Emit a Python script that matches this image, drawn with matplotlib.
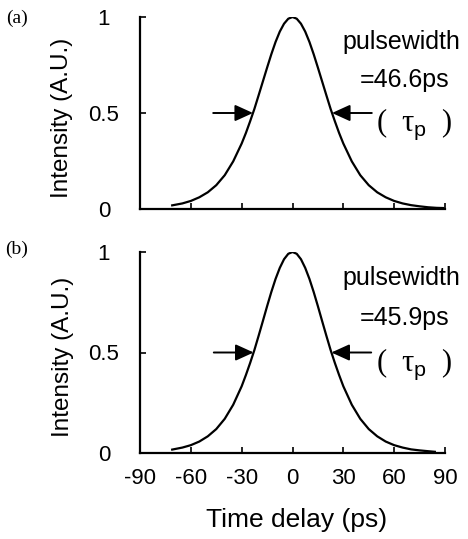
import matplotlib
matplotlib.use("Agg")
import matplotlib.pyplot as plt

# values (time delay in ps, normalised intensity)
t_a = [-71, -65, -60, -55, -50, -45, -40, -35, -30, -27.5, -25, -22.5, -20, -17.5,
       -15, -12.5, -10, -7.5, -5, -2.5, 0, 2.5, 5, 7.5, 10, 12.5, 15, 17.5, 20,
       22.5, 25, 27.5, 30, 35, 40, 45, 50, 55, 60, 65, 70, 75, 80, 85, 89]
i_a = [0.019, 0.029, 0.042, 0.061, 0.087, 0.124, 0.176, 0.248, 0.341, 0.396, 0.457,
       0.521, 0.592, 0.664, 0.736, 0.806, 0.870, 0.924, 0.965, 0.991, 1.000, 0.991,
       0.965, 0.924, 0.870, 0.806, 0.736, 0.664, 0.592, 0.521, 0.457, 0.396, 0.341,
       0.248, 0.176, 0.124, 0.087, 0.061, 0.042, 0.029, 0.020, 0.014, 0.009, 0.006,
       0.005]

t_b = [-71, -65, -60, -55, -50, -45, -40, -35, -30, -27.5, -25, -22.5, -20, -17.5,
       -15, -12.5, -10, -7.5, -5, -2.5, 0, 2.5, 5, 7.5, 10, 12.5, 15, 17.5, 20,
       22.5, 25, 27.5, 30, 35, 40, 45, 50, 55, 60, 65, 70, 75, 80, 84]
i_b = [0.017, 0.027, 0.039, 0.057, 0.083, 0.119, 0.170, 0.240, 0.332, 0.388, 0.448,
       0.512, 0.583, 0.656, 0.730, 0.801, 0.866, 0.921, 0.964, 0.991, 1.000, 0.991,
       0.964, 0.921, 0.866, 0.801, 0.730, 0.656, 0.583, 0.512, 0.448, 0.388, 0.332,
       0.240, 0.170, 0.119, 0.083, 0.057, 0.039, 0.027, 0.018, 0.013, 0.009, 0.006]

widths = ["=46.6ps", "=45.9ps"]
half_width = [23.3, 22.95]
panel_tags = ["(a)", "(b)"]
x_ticks = [-90, -60, -30, 0, 30, 60, 90]
y_ticks = [0, 0.5, 1]
y_tick_labels = ["0", "0.5", "1"]

W, H = 468, 539
plt.rcParams["font.family"] = ["Liberation Sans", "DejaVu Sans"]
plt.rcParams["mathtext.fontset"] = "custom"
plt.rcParams["mathtext.rm"] = "Liberation Sans"

SERIF = ["Liberation Serif", "DejaVu Serif"]

fig = plt.figure(figsize=(W / 100, H / 100), dpi=100)
fig.patch.set_facecolor("white")


def _axes(left, top, right, bottom):
    return fig.add_axes([left / W, 1 - bottom / H, (right - left) / W, (bottom - top) / H])


ax_a = _axes(140, 17, 445, 209)
ax_b = _axes(140, 252, 445, 453)

series = [(t_a, i_a), (t_b, i_b)]
for k, ax in enumerate([ax_a, ax_b]):
    t, y = series[k]
    ax.plot(t, y, color="black", lw=1.6)
    ax.set_xlim(-90, 90)
    ax.set_ylim(0, 1)
    for s in ("top", "right"):
        ax.spines[s].set_visible(False)
    for s in ("left", "bottom"):
        ax.spines[s].set_linewidth(1.6)
    ax.set_xticks(x_ticks)
    ax.set_xticklabels([str(v) for v in x_ticks])
    ax.set_yticks(y_ticks)
    ax.set_yticklabels(y_tick_labels)
    ax.tick_params(axis="both", direction="in", length=4, width=1.2, labelsize=16)
    ax.tick_params(axis="y", pad=26)
    ax.tick_params(axis="x", pad=11)
    for lab in ax.get_yticklabels():
        lab.set_horizontalalignment("center")
    if k == 0:
        ax.tick_params(axis="x", labelbottom=False)

    hw = half_width[k]
    arrow = dict(arrowstyle="-|>,head_length=1.1,head_width=0.5", color="black",
                 lw=1.4, shrinkA=0, shrinkB=0)
    ax.annotate("", xy=(-hw, 0.5), xytext=(-hw - 23.5, 0.5), arrowprops=arrow)
    ax.annotate("", xy=(hw, 0.5), xytext=(hw + 23.5, 0.5), arrowprops=arrow)

    ax.text(64.5, 0.87, "pulsewidth", ha="center", va="center", fontsize=18)
    ax.text(66, 0.67, widths[k], ha="center", va="center", fontsize=18)
    ax.text(72, 0.44, "(  τ$_{\\mathrm{p}}$  )", ha="center", va="center",
            fontsize=22, family=SERIF)

# y labels and panel tags
fig.text(62 / W, 1 - 118 / H, "Intensity (A.U.)", rotation=90, ha="center",
         va="center", fontsize=17.5)
fig.text(63 / W, 1 - 357 / H, "Intensity (A.U.)", rotation=90, ha="center",
         va="center", fontsize=17.5)
fig.text(17 / W, 1 - 18 / H, panel_tags[0], ha="center", va="center", fontsize=14,
         family=SERIF)
fig.text(17 / W, 1 - 249 / H, panel_tags[1], ha="center", va="center", fontsize=14,
         family=SERIF)

fig.text(297 / W, 1 - 527 / H, "Time delay (ps)", ha="center", va="baseline",
         fontsize=19)

fig.savefig("out.png", dpi=100, facecolor="white")
